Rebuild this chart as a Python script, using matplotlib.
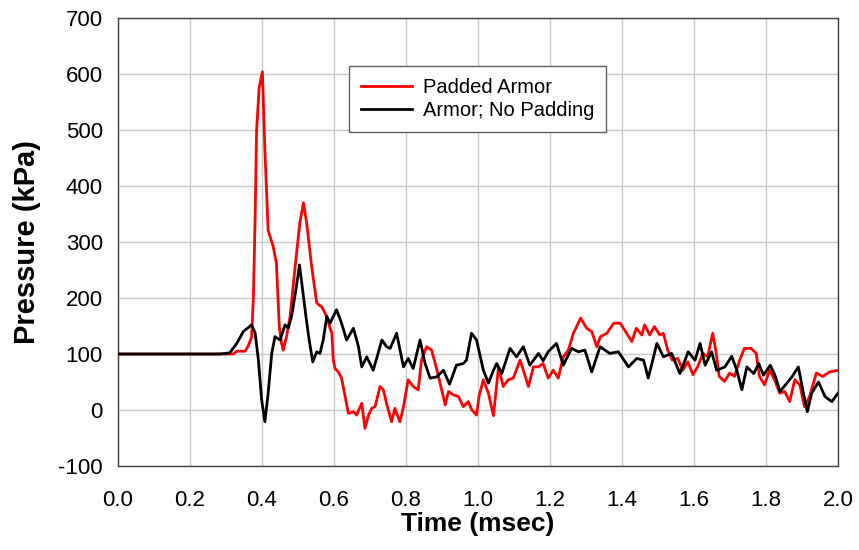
import matplotlib
matplotlib.use("Agg")
import matplotlib.pyplot as plt
import numpy as np

# Pressão (kPa) x tempo (msec)
t_padded = [0.0, 0.283, 0.32, 0.330, 0.353, 0.362, 0.371, 0.376, 0.381, 0.385, 0.392,
            0.401, 0.408, 0.417, 0.427, 0.431, 0.44, 0.448, 0.454, 0.459, 0.468, 0.478,
            0.492, 0.505, 0.515, 0.524, 0.538, 0.552, 0.566, 0.58,
            0.589, 0.594, 0.598, 0.603, 0.612, 0.621, 0.631, 0.64, 0.654, 0.663, 0.677,
            0.686, 0.696, 0.705, 0.714, 0.728, 0.737, 0.746, 0.76, 0.769, 0.783, 0.793,
            0.806, 0.82, 0.834, 0.843, 0.857, 0.871, 0.885, 0.899, 0.909, 0.918, 0.932,
            0.946, 0.959, 0.973, 0.982, 0.996, 1.003,
            1.015, 1.029, 1.043, 1.057,
            1.07, 1.084, 1.098, 1.117, 1.126, 1.14, 1.154, 1.168, 1.181, 1.195, 1.209,
            1.223, 1.237, 1.251, 1.265, 1.285, 1.302, 1.316, 1.33, 1.34, 1.358, 1.377,
            1.395, 1.413, 1.427, 1.44, 1.455, 1.463, 1.477, 1.49, 1.505, 1.515, 1.527,
            1.54, 1.555, 1.569, 1.583, 1.597, 1.61, 1.625, 1.638, 1.652, 1.662, 1.67,
            1.685, 1.699, 1.713, 1.727, 1.74, 1.759, 1.773, 1.782, 1.796, 1.81, 1.824,
            1.838, 1.852, 1.866, 1.88, 1.894, 1.907, 1.921, 1.94, 1.958, 1.977, 2.0]
p_padded = [100, 100, 100, 105, 105, 115, 130, 200, 350, 500, 575,
            604, 464, 321, 300, 292, 262, 149, 120, 107, 131, 167,
            256, 334, 370, 334, 256, 191, 184, 167,
            146, 137, 89, 74, 68, 57, 24, -6, -3, -9, 12,
            -33, -9, 3, 6, 42, 36, 12, -21, 3, -21, 6,
            54, 42, 36, 89, 113, 107, 74, 36, 9, 33, 27,
            24, 6, 15, 1, -9, 25,
            54, 30, -10, 77,
            42, 54, 57, 89, 71, 42, 77, 77, 83, 57, 71,
            57, 95, 107, 137, 164, 146, 140, 113, 131, 137, 155,
            155, 137, 122, 146, 134, 152, 134, 149, 134, 137, 107,
            89, 92, 71, 86, 63, 77, 101, 95, 137, 101, 60,
            51, 66, 60, 89, 110, 110, 101, 60, 45, 71, 54,
            30, 33, 15, 54, 45, 6, 24, 66, 60, 68, 71]

t_nopad = [0.0, 0.283, 0.31, 0.330, 0.348, 0.371, 0.381, 0.39, 0.399, 0.408, 0.417,
           0.427, 0.436, 0.45, 0.464, 0.473, 0.482, 0.494, 0.504, 0.513, 0.522, 0.531,
           0.541, 0.552, 0.561, 0.57, 0.58,
           0.589, 0.607, 0.621, 0.635, 0.654, 0.668, 0.677, 0.691, 0.709, 0.733, 0.746,
           0.756, 0.774, 0.793, 0.806, 0.82, 0.839, 0.853, 0.867, 0.885, 0.904, 0.921,
           0.94, 0.959, 0.968, 0.982, 0.996,
           1.015, 1.029, 1.043, 1.052,
           1.066, 1.089, 1.107, 1.126, 1.144, 1.168, 1.181, 1.195, 1.218, 1.237, 1.26,
           1.279, 1.297, 1.316, 1.339, 1.366, 1.39, 1.418, 1.441, 1.46, 1.473, 1.497,
           1.515, 1.538, 1.561, 1.584, 1.603, 1.617, 1.631, 1.649, 1.663, 1.686, 1.705,
           1.719, 1.733, 1.747, 1.766, 1.78, 1.793, 1.812, 1.825, 1.839, 1.858, 1.872,
           1.89, 1.904, 1.915, 1.927, 1.946, 1.964, 1.983, 2.0]
p_nopad = [100, 100, 102, 119, 140, 152, 137, 89, 18, -21, 30,
           101, 131, 125, 152, 146, 167, 214, 259, 214, 167, 125,
           86, 104, 101, 125, 167,
           155, 179, 155, 125, 146, 113, 77, 95, 71, 125, 113,
           110, 137, 77, 92, 74, 125, 83, 57, 59, 71, 46,
           80, 83, 89, 137, 125,
           71, 48, 71, 83,
           65, 110, 95, 113, 80, 101, 88, 104, 119, 80, 110,
           104, 107, 68, 113, 101, 104, 77, 92, 89, 57, 119,
           95, 101, 65, 104, 89, 119, 80, 104, 71, 77, 96,
           71, 36, 77, 65, 83, 62, 80, 62, 33, 48, 59,
           77, 30, -3, 30, 50, 24, 15, 30]

x_ticks = np.arange(0.0, 2.01, 0.2)
y_ticks = np.arange(-100, 701, 100)

plt.rcParams['font.family'] = ['Liberation Sans', 'DejaVu Sans']

fig = plt.figure(figsize=(8.59, 5.5), dpi=100)
ax = fig.add_axes([0.1374, 0.1527, 0.8381, 0.8146])

ax.plot(t_padded, p_padded, color='#ff0000', lw=2.0, label='Padded Armor', zorder=3)
ax.plot(t_nopad, p_nopad, color='black', lw=2.0, label='Armor; No Padding', zorder=4)

ax.set_xlim(0, 2.0)
ax.set_ylim(-100, 700)
ax.set_xticks(x_ticks)
ax.set_xticklabels([f"{v:.1f}" for v in x_ticks])
ax.set_yticks(y_ticks)
ax.set_yticklabels([str(v) for v in y_ticks])
ax.tick_params(length=0, labelsize=16)
ax.tick_params(axis='x', pad=17)
ax.tick_params(axis='y', pad=11)
ax.grid(True, color='#c8c8c8', lw=1.0)
ax.set_axisbelow(True)
for s in ax.spines.values():
    s.set_color('#404040')
    s.set_linewidth(1.0)

ax.set_xlabel("Time (msec)", fontsize=19, fontweight='bold', labelpad=1)
ax.set_ylabel("Pressure (kPa)", fontsize=21, fontweight='bold', labelpad=12)

leg = ax.legend(loc='upper left', bbox_to_anchor=(0.321, 0.893), fancybox=False,
                framealpha=1, edgecolor='#606060', handlelength=2.5,
                prop={'size': 14.5}, borderaxespad=0,
                borderpad=0.6, labelspacing=0.2, handletextpad=0.55)
leg.get_frame().set_linewidth(1.0)

fig.savefig("out.png", dpi=100)
